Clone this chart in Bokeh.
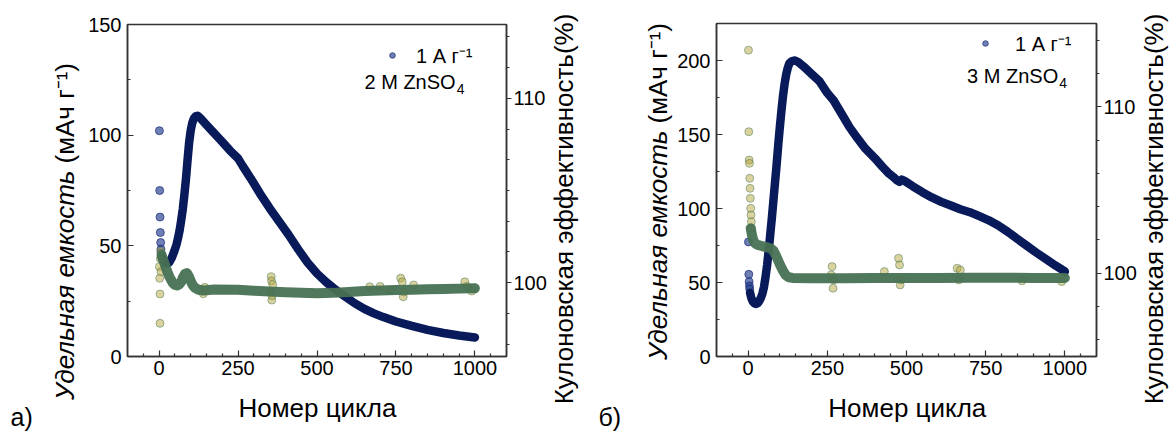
from math import pi

from bokeh.embed import file_html
from bokeh.layouts import column, row
from bokeh.models import FixedTicker, Label, Legend, LegendItem, LinearAxis, Range1d
from bokeh.plotting import figure
from bokeh.resources import INLINE

FONT = "Liberation Sans"
NAVY = "#081a5a"
GREEN = "#477153"
AXIS = "#333333"
HEIGHT = 432
TOP_H = 390          # plot strip height; the x-axis title strip sits below it
MID = 0.3465         # baseline-to-em-middle distance, in em

# ---------------- data ----------------
x_ticks = [0, 250, 500, 750, 1000]
x_minor = [-50, 50, 100, 150, 200, 300, 350, 400, 450, 550, 600, 650, 700,
           800, 850, 900, 950, 1050]

# panel a: 2 M ZnSO4
a_first_cyc = [1, 2, 3, 4, 5, 6, 7]
a_first_cap = [102, 75, 63, 56, 51.5, 48.5, 46.5]
a_cyc = [8, 12, 18, 25, 32, 40, 48, 55, 60, 65, 70, 75, 80, 85, 90, 95, 100, 105,
         110, 116, 122, 130, 150, 175, 200, 225, 250, 265, 290, 320, 350, 380,
         410, 440, 470, 500, 530, 560, 590, 620, 650, 680, 710, 750, 800, 850,
         900, 950, 1000]
a_cap = [45, 43.5, 42.5, 42, 42.5, 44.5, 47.5, 50.5, 53.5, 57, 61.5, 66.5, 73, 80,
         88.5, 96.5, 102, 105.5, 107.5, 108.5, 108.8, 107.8, 104.7, 100.8, 97, 93,
         89.5, 86, 80.5, 73.5, 67, 61, 55, 48.5, 42.5, 37.5, 33.5, 30, 27, 24,
         21.5, 19.5, 17.8, 15.8, 13.8, 12, 10.6, 9.5, 8.6]
a_ce_cyc = [8, 14, 20, 26, 32, 38, 44, 50, 57, 63, 70, 76, 82, 88, 94, 100, 106,
            114, 125, 140, 175, 250, 300, 350, 400, 450, 500, 550, 600, 650, 700,
            750, 800, 850, 900, 950, 1000]
a_ce = [101.5, 101.2, 100.9, 100.6, 100.35, 100.15, 99.98, 99.88, 99.85, 99.9,
        100.05, 100.3, 100.48, 100.52, 100.35, 100.1, 99.88, 99.72, 99.62, 99.58,
        99.63, 99.62, 99.57, 99.52, 99.48, 99.45, 99.43, 99.45, 99.5, 99.55, 99.58,
        99.6, 99.62, 99.65, 99.66, 99.68, 99.7]
a_ce_out_cyc = [1, 2, 3, 3, 4, 5, 6, 140, 145, 352, 355, 356, 357, 358, 360, 667,
                700, 731, 765, 770, 773, 775, 806, 968, 975, 990]
a_ce_out = [100.87, 100.24, 99.39, 97.8, 101.3, 101.7, 100.6, 99.4, 99.75, 99.5,
            100.33, 100.1, 99.06, 99.3, 99.9, 99.78, 99.8, 99.6, 100.25, 100.05,
            99.24, 99.5, 99.88, 100.05, 99.8, 99.55]

# panel b: 3 M ZnSO4
b_first_cyc = [1, 2, 3, 4, 5]
b_first_cap = [77.4, 55.5, 50.5, 47.6, 45.4]
b_cyc = [6, 10, 15, 20, 25, 30, 35, 40, 45, 50, 55, 60, 65, 70, 75, 80, 85, 90, 95,
         100, 105, 110, 115, 120, 125, 130, 138, 148, 158, 175, 200, 225, 250, 270,
         295, 320, 345, 370, 400, 425, 445, 460, 470, 478, 485, 495, 520, 550, 580,
         610, 640, 670, 700, 730, 760, 790, 820, 850, 880, 910, 940, 970, 1000]
b_cap = [43, 39.5, 37, 35.8, 35.5, 36, 37.5, 39.5, 42.5, 47, 54, 62, 72, 83, 94,
         106, 118, 130, 143, 155, 166, 176, 184, 190.5, 195, 198, 199.6, 200, 199,
         196, 191, 186, 178, 173, 164, 155, 147.5, 140.5, 134, 128, 123.5, 121, 119,
         118, 119.5, 118.5, 115, 111, 107.5, 104.5, 102, 99.5, 97.5, 94.8, 92, 88.5,
         84.2, 79.5, 74.8, 70.2, 65.8, 61.5, 57.5]
b_ce_cyc = [8, 12, 16, 20, 25, 30, 40, 50, 60, 70, 80, 88, 95, 102, 110, 118, 128,
            140, 200, 300, 400, 500, 600, 700, 800, 900, 1000]
b_ce = [102.7, 102.3, 102.0, 101.85, 101.75, 101.7, 101.65, 101.6, 101.55, 101.5,
        101.35, 101.05, 100.75, 100.45, 100.15, 99.9, 99.76, 99.72, 99.7, 99.7,
        99.72, 99.72, 99.72, 99.73, 99.73, 99.72, 99.72]
b_ce_out_cyc = [1, 2, 3, 4, 5, 6, 7, 8, 9, 10, 11, 262, 265, 268, 270, 430, 475,
                478, 480, 483, 660, 665, 670, 865, 990]
b_ce_out = [113.4, 108.5, 106.8, 106.6, 105.7, 105.1, 104.5, 103.9, 103.5, 103.1,
            102.7, 99.9, 100.4, 99.1, 99.6, 100.1, 100.9, 100.5, 99.3, 99.6, 100.3,
            99.6, 100.2, 99.55, 99.5]


def text_label(x, y, text, size, align="left", angle=0.0, style="normal"):
    return Label(x=x, y=y, text=text, text_font=FONT, text_font_size=f"{size}px",
                 text_align=align, text_baseline="middle", angle=angle,
                 text_font_style=style, text_color="black")


def mid_point(px, py, size, angle):
    """Convert a baseline point (page pixels) to the text's em-middle."""
    if angle:
        return px - MID * size, py
    return px, py - MID * size


def strip(x0, y0, w, h, items):
    """Blank canvas holding axis titles; items are given in page pixels."""
    p = figure(width=w, height=h, x_range=Range1d(0, w), y_range=Range1d(0, h),
               x_axis_type=None, y_axis_type=None, output_backend="svg",
               toolbar_location=None, min_border=0, outline_line_color=None,
               background_fill_color="white", border_fill_color="white")
    p.grid.visible = False
    for it in items:
        px, py, text, size = it[:4]
        opts = it[4] if len(it) > 4 else {}
        mx, my = mid_point(px, py, size, opts.get("angle", 0.0))
        p.add_layout(text_label(mx - x0, h - (my - y0), text, size, **opts))
    return p


def style_axis(ax, inward):
    ax.axis_line_color = AXIS
    ax.axis_line_width = 1.5
    ax.major_tick_line_color = AXIS
    ax.minor_tick_line_color = AXIS
    ax.major_tick_line_width = 1.2
    ax.minor_tick_line_width = 1.2
    if inward:
        ax.major_tick_in, ax.major_tick_out = 6, 0
        ax.minor_tick_in, ax.minor_tick_out = 3, 0
    else:
        ax.major_tick_in, ax.major_tick_out = 0, 5
        ax.minor_tick_in, ax.minor_tick_out = 0, 3
    ax.major_label_text_font = FONT
    ax.major_label_text_font_size = "20px"
    ax.major_label_text_color = "black"


def panel(cfg):
    fl, fr, ft, fb = cfg["frame"]
    start, x0, w = cfg["start"], cfg["x0"], cfg["width"]
    xr = (-100, 1100)
    yr = (0, cfg["ymax"])
    p = figure(width=w, height=TOP_H, x_range=Range1d(*xr), y_range=Range1d(*yr),
               output_backend="svg", toolbar_location=None,
               min_border_left=fl - x0, min_border_right=x0 + w - fr,
               min_border_top=ft, min_border_bottom=TOP_H - fb,
               background_fill_color="white", border_fill_color="white",
               outline_line_color=AXIS, outline_line_width=1.5)
    p.grid.visible = False
    p.extra_y_ranges = {"ce": Range1d(*cfg["ce_range"])}

    p.xaxis.ticker = FixedTicker(ticks=x_ticks, minor_ticks=x_minor)
    p.yaxis.ticker = FixedTicker(ticks=cfg["yticks"], minor_ticks=cfg["yminor"])
    style_axis(p.xaxis[0], True)
    style_axis(p.yaxis[0], True)
    p.xaxis.major_label_standoff = 4
    p.yaxis.major_label_standoff = 6

    right = LinearAxis(y_range_name="ce",
                       ticker=FixedTicker(ticks=[100, 110], minor_ticks=cfg["ce_minor"]))
    style_axis(right, False)
    right.major_label_standoff = 2
    p.add_layout(right, "right")

    # specific capacity
    first = p.scatter(cfg["first_cyc"], cfg["first_cap"], size=8,
                      fill_color="#1f3a8a", fill_alpha=0.65,
                      line_color="#1a2a78", line_alpha=0.7)
    p.line(cfg["cyc"], cfg["cap"], line_width=8.5, line_color=NAVY,
           line_join="round", line_cap="round")

    # coulombic efficiency
    p.scatter(cfg["ce_out_cyc"], cfg["ce_out"], y_range_name="ce", size=8,
              fill_color="#b5a540", fill_alpha=0.5,
              line_color="#4a7a55", line_alpha=0.5)
    p.line(cfg["ce_cyc"], cfg["ce"], y_range_name="ce", line_width=10,
           line_color=GREEN, line_alpha=0.95, line_join="round", line_cap="round")

    lx, ly = cfg["legend_dot"]
    legend = Legend(items=[LegendItem(label="1 А г⁻¹", renderers=[first])],
                    location=(lx - 7 - fl, fb - ly - 11),
                    glyph_width=14, glyph_height=20, label_height=20,
                    label_standoff=cfg["legend_standoff"], padding=0, margin=0,
                    spacing=0, background_fill_alpha=0, border_line_alpha=0,
                    label_text_font=FONT, label_text_font_size="20px",
                    label_text_color="black")
    p.add_layout(legend)

    # electrolyte note under the legend, with a lowered "4"
    def to_data(px, py, size):
        mx, my = mid_point(px, py, size, 0.0)
        return (xr[0] + (mx - fl) / (fr - fl) * (xr[1] - xr[0]),
                yr[0] + (fb - my) / (fb - ft) * (yr[1] - yr[0]))

    sx, sb = cfg["salt_pos"]
    p.add_layout(text_label(*to_data(sx, sb, 20), cfg["salt"], 20, align="right"))
    p.add_layout(text_label(*to_data(sx + 1, sb + 5, 14), "4", 14, align="left"))

    # title strips around the plot
    left_strip = strip(start, 0, x0 - start, HEIGHT, [
        (cfg["ylab"][0], cfg["ylab"][1] + 4, "Удельная емкость", 26,
         dict(align="right", angle=pi / 2, style="italic")),
        (cfg["ylab"][0], cfg["ylab"][1] - 3, "(мАч г⁻¹)", 26,
         dict(align="left", angle=pi / 2)),
        (cfg["tag_pos"][0], cfg["tag_pos"][1], cfg["tag"], 25),
    ])
    right_strip = strip(x0 + w, 0, cfg["right_w"], HEIGHT, [
        (cfg["rlab"][0], cfg["rlab"][1], "Кулоновская эффективность(%)", 26,
         dict(align="center", angle=pi / 2)),
    ])
    bottom_strip = strip(x0, TOP_H, w, HEIGHT - TOP_H, [
        ((fl + fr) / 2, 416.5, "Номер цикла", 26, dict(align="center")),
    ])
    return [left_strip, column(p, bottom_strip, spacing=0), right_strip]


cfg_a = dict(start=0, x0=84, width=465, right_w=36, frame=(127, 507, 24, 356),
             ymax=150, yticks=[0, 50, 100, 150], yminor=[25, 75, 125],
             ce_range=(96, 114),
             ce_minor=[96 + 2 / 3, 98 + 1 / 3, 101 + 2 / 3, 103 + 1 / 3, 105,
                       106 + 2 / 3, 108 + 1 / 3, 111 + 2 / 3, 113 + 1 / 3],
             first_cyc=a_first_cyc, first_cap=a_first_cap, cyc=a_cyc, cap=a_cap,
             ce_cyc=a_ce_cyc, ce=a_ce, ce_out_cyc=a_ce_out_cyc, ce_out=a_ce_out,
             legend_dot=(392, 57.5), legend_standoff=17,
             salt="2 M ZnSO", salt_pos=(456, 88),
             ylab=(74, 166), rlab=(573, 208.5), tag="а)", tag_pos=(10, 425))

cfg_b = dict(start=585, x0=673, width=466, right_w=31, frame=(716, 1098, 23, 356),
             ymax=225, yticks=[0, 50, 100, 150, 200], yminor=[25, 75, 125, 175],
             ce_range=(95, 115),
             ce_minor=[96, 98, 102, 104, 106, 108, 112, 114],
             first_cyc=b_first_cyc, first_cap=b_first_cap, cyc=b_cyc, cap=b_cap,
             ce_cyc=b_ce_cyc, ce=b_ce, ce_out_cyc=b_ce_out_cyc, ce_out=b_ce_out,
             legend_dot=(985, 45.5), legend_standoff=23,
             salt="3 M ZnSO", salt_pos=(1059.5, 82),
             ylab=(667, 126), rlab=(1163, 208.5), tag="б)", tag_pos=(598, 425))

layout = row(*panel(cfg_a), *panel(cfg_b), spacing=0)

open("out.html", "w").write(file_html(layout, INLINE))
